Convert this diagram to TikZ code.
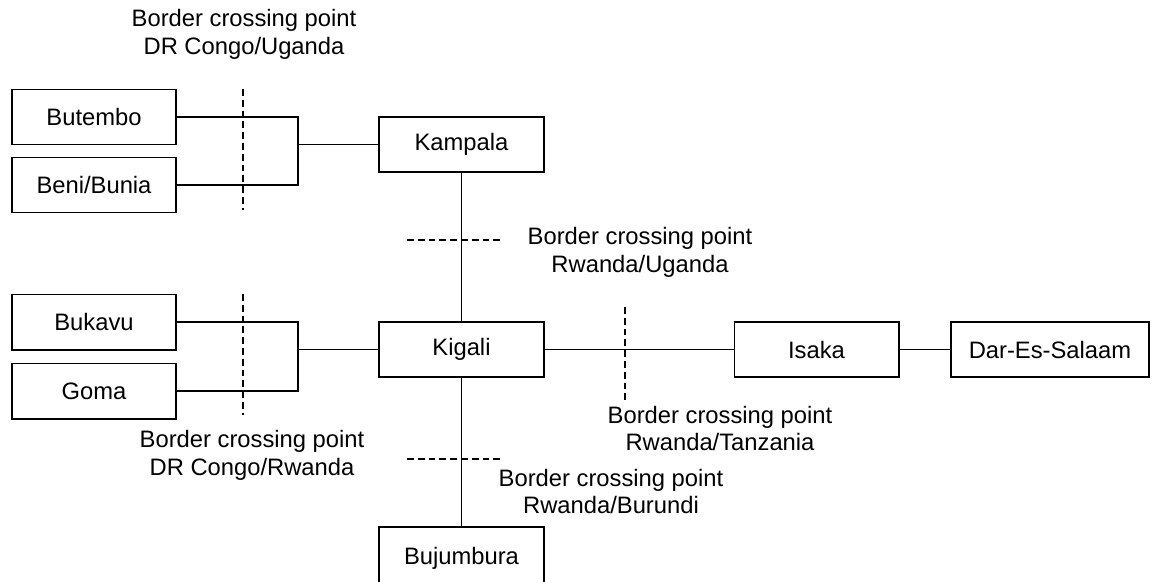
\documentclass[tikz,border=0pt]{standalone}
\usepackage{fontspec}
\setmainfont{Liberation Sans}
\usetikzlibrary{calc}

\begin{document}
\begin{tikzpicture}[x=0.025cm,y=-0.025cm,
    town/.style={draw,line width=1.4pt,minimum width=4.1cm,minimum height=1.375cm,inner sep=0pt,font=\fontsize{16.9}{19.9}\selectfont},
    link/.style={line width=1.4pt},
    border/.style={line width=1.4pt,dash pattern=on 0.17cm off 0.1cm},
    note/.style={align=center,font=\fontsize{16.9}{19.9}\selectfont}]
    \useasboundingbox (0,0) rectangle (1153,581);

    % towns
    \node[town] (butembo) at (94,117) {Butembo};
    \node[town] (beni) at (94,185) {Beni/Bunia};
    \node[town] (bukavu) at (94,322) {Bukavu};
    \node[town] (goma) at (94,391) {Goma};
    \node[town] (kampala) at (461.5,144.5) {Kampala};
    \node[town] (kigali) at (461.5,349.5) {Kigali};
    \node[town] (isaka) at (816.5,349.5) {Isaka};
    \node[town,minimum width=4.95cm] (dar) at (1050,349.5) {Dar-Es-Salaam};
    \node[town,minimum height=1.55cm] (bujumbura) at (461.5,558) {Bujumbura};

    % routes
    \coordinate (joinNorth) at (298,144.5);
    \coordinate (joinSouth) at (298,349.5);
    \draw[link] (butembo.east) -| (joinNorth) |- (beni.east);
    \draw[link] (joinNorth) -- (kampala.west);
    \draw[link] (bukavu.east) -| (joinSouth) |- (goma.east);
    \draw[link] (joinSouth) -- (kigali.west);
    \draw[link] (kampala) -- (kigali);
    \draw[link] (kigali) -- (bujumbura);
    \draw[link] (kigali) -- (isaka);
    \draw[link] (isaka) -- (dar);

    % borders
    \draw[border] (243,89) -- ++(0,121);
    \draw[border] (243,294) -- ++(0,121);
    \draw[border] (407,240) -- ++(95,0);
    \draw[border] (407,459) -- ++(95,0);
    \draw[border] (625,307) -- ++(0,95);

    \node[note] (crossCU) at (244,34) {Border crossing point\\DR Congo/Uganda};
    \node[note] (crossRU) at (640,252) {Border crossing point\\Rwanda/Uganda};
    \node[note] (crossCR) at (252,455) {Border crossing point\\DR Congo/Rwanda};
    \node[note] (crossRT) at (720,428.5) {Border crossing point\\Rwanda/Tanzania};
    \node[note] (crossRB) at (611,491.5) {Border crossing point\\Rwanda/Burundi};
\end{tikzpicture}
\end{document}
